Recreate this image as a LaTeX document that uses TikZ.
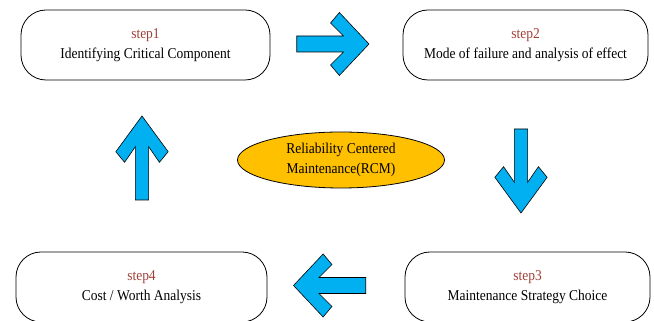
\documentclass[tikz,border=0pt]{standalone}
\usepackage{fontspec}
\setmainfont[FakeStretch=0.9]{Liberation Serif}
\usetikzlibrary{shapes.geometric}
\definecolor{stepred}{RGB}{160,64,56}
\definecolor{rcmgold}{RGB}{255,192,0}
\definecolor{arrowblue}{RGB}{0,176,240}
\tikzset{
  stepbox/.style={draw, line width=0.8pt, rounded corners=25pt, minimum width=#1,
    minimum height=70pt, inner sep=0pt, align=center, font=\fontsize{15}{20}\selectfont},
  pics/blockarrow/.style={code={
    \draw[fill=arrowblue, line width=0.6pt, line join=miter]
      (0,0) -- (-35.7,31.5) -- (-46.3,21) -- (-30.7,8) -- (-#1,8)
      -- (-#1,-8) -- (-30.7,-8) -- (-46.3,-21) -- (-35.7,-31.5) -- cycle;
  }}
}
\begin{document}
\begin{tikzpicture}[x=1pt,y=1pt]
        \useasboundingbox (0,0) rectangle (654,321);
        \clip (0,0) rectangle (654,321);

        % the four steps
        \node[stepbox=249pt] (step1) at (145.5,276) {\textcolor{stepred}{step1}\\Identifying Critical Component};
        \node[stepbox=245pt] (step2) at (525.5,276) {\textcolor{stepred}{step2}\\Mode of failure and analysis of effect};
        \node[stepbox=245pt] (step3) at (527.5,34) {\textcolor{stepred}{step3}\\Maintenance Strategy Choice};
        \node[stepbox=251pt] (step4) at (141.5,34) {\textcolor{stepred}{step4}\\Cost / Worth Analysis};

        % centre
        \node[ellipse, draw, line width=0.8pt, fill=rcmgold, minimum width=207pt, minimum height=56pt,
              inner sep=0pt, align=center, font=\fontsize{15}{20}\selectfont] (rcm) at (341,161)
              {Reliability Centered\\Maintenance(RCM)};

        % block arrows between the steps (squeezed along x like the rest)
        \pic[xscale=0.83] at (369,277) {blockarrow=87};
        \pic[rotate=-90, yscale=0.83] at (521,108) {blockarrow=84};
        \pic[rotate=180, xscale=0.83] at (293.5,35.5) {blockarrow=87};
        \pic[rotate=90, yscale=0.83] at (142,205) {blockarrow=84};
    \end{tikzpicture}
\end{document}
